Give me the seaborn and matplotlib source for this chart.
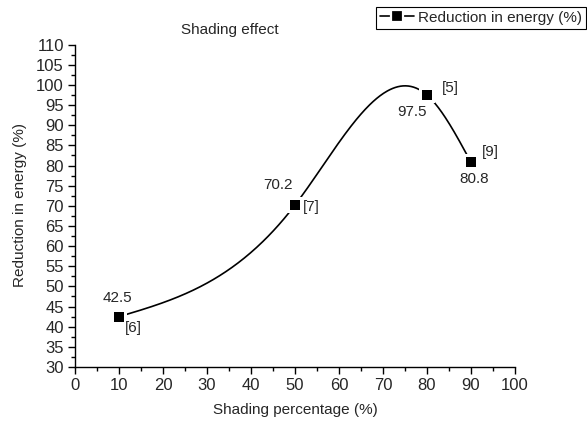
import numpy as np
import matplotlib
matplotlib.use("Agg")
import matplotlib.pyplot as plt
from matplotlib.lines import Line2D
from matplotlib.ticker import MultipleLocator
import seaborn as sns
import pandas as pd

# ---- data ----
shading = [10, 50, 80, 90]
reduction = [42.5, 70.2, 97.5, 80.8]
refs = ["[6]", "[7]", "[5]", "[9]"]
value_labels = ["42.5", "70.2", "97.5", "80.8"]
series_name = "Reduction in energy (%)"

sns.set_style("ticks")
plt.rcParams["font.family"] = ["Liberation Sans", "DejaVu Sans"]


def natural_spline(x, y, n=400):
    x = np.asarray(x, float)
    y = np.asarray(y, float)
    k = len(x)
    h = np.diff(x)
    A = np.zeros((k, k))
    b = np.zeros(k)
    A[0, 0] = 1
    A[-1, -1] = 1
    for i in range(1, k - 1):
        A[i, i - 1] = h[i - 1]
        A[i, i] = 2 * (h[i - 1] + h[i])
        A[i, i + 1] = h[i]
        b[i] = 6 * ((y[i + 1] - y[i]) / h[i] - (y[i] - y[i - 1]) / h[i - 1])
    M = np.linalg.solve(A, b)
    xs = np.linspace(x[0], x[-1], n)
    ys = np.empty_like(xs)
    for j, xv in enumerate(xs):
        i = min(np.searchsorted(x, xv, side="right") - 1, k - 2)
        hi = h[i]
        a = x[i + 1] - xv
        c = xv - x[i]
        ys[j] = (M[i] * a**3 / (6 * hi) + M[i + 1] * c**3 / (6 * hi)
                 + (y[i] / hi - M[i] * hi / 6) * a
                 + (y[i + 1] / hi - M[i + 1] * hi / 6) * c)
    return xs, ys


df = pd.DataFrame({"x": shading, "y": reduction})
sx, sy = natural_spline(shading, reduction)
curve = pd.DataFrame({"x": sx, "y": sy})

fig = plt.figure(figsize=(5.87, 4.21), dpi=100)
ax = fig.add_axes([75 / 587, 1 - 367 / 421, 440 / 587, (367 - 44.7) / 421])

sns.lineplot(data=curve, x="x", y="y", ax=ax, color="black", linewidth=1.2,
             estimator=None, sort=False, zorder=2)
# white gaps around markers (Origin style)
ax.scatter(df["x"], df["y"], marker="s", s=140, color="white", zorder=3,
           linewidths=0)
sns.scatterplot(data=df, x="x", y="y", ax=ax, marker="s", s=50,
                color="black", linewidth=0, zorder=4)

ax.set_xlim(0, 100)
ax.set_ylim(30, 110)
ax.xaxis.set_major_locator(MultipleLocator(10))
ax.xaxis.set_minor_locator(MultipleLocator(5))
ax.yaxis.set_major_locator(MultipleLocator(5))
ax.yaxis.set_minor_locator(MultipleLocator(2.5))
ax.tick_params(which="major", direction="out", length=5, width=1,
               labelsize=12, color="black", pad=3)
ax.tick_params(which="minor", direction="out", length=3, width=1,
               color="black")
sns.despine(ax=ax)
for sp in ("left", "bottom"):
    ax.spines[sp].set_linewidth(1)
    ax.spines[sp].set_color("black")
ax.set_xlabel("")
ax.set_ylabel("")

# annotations (offsets in points)
val_off = [(-1, 13.5), (-12, 14.5), (-11, -12.5), (2, -12)]
ref_off = [(10, -8), (12, -1.5), (17, 5), (14, 7.5)]
for xv, yv, vl, rl, vo, ro in zip(shading, reduction, value_labels, refs,
                                  val_off, ref_off):
    ax.annotate(vl, (xv, yv), xytext=vo, textcoords="offset points",
                ha="center", va="center", fontsize=11)
    ax.annotate(rl, (xv, yv), xytext=ro, textcoords="offset points",
                ha="center", va="center", fontsize=11)

fig.text(230 / 587, 1 - 30 / 421, "Shading effect", ha="center",
         va="center", fontsize=11)
fig.text(295 / 587, 1 - 410 / 421, "Shading percentage (%)", ha="center",
         va="center", fontsize=11)
fig.text(20 / 587, 1 - 205 / 421, "Reduction in energy (%)", ha="center",
         va="center", rotation=90, fontsize=11)

handle = Line2D([0], [0], color="black", linewidth=1.2, marker="s",
                markersize=8.5, markerfacecolor="black",
                markeredgecolor="white", markeredgewidth=1.6)
leg = fig.legend([handle], [series_name], loc="upper right",
                 bbox_to_anchor=(586 / 587, 1 - 7 / 421),
                 bbox_transform=fig.transFigure, frameon=True,
                 fancybox=False, edgecolor="black", framealpha=1,
                 borderpad=0.25, handlelength=2.2, handletextpad=0.3,
                 borderaxespad=0, fontsize=11)
leg.get_frame().set_linewidth(0.8)

fig.savefig("out.png", dpi=100)
